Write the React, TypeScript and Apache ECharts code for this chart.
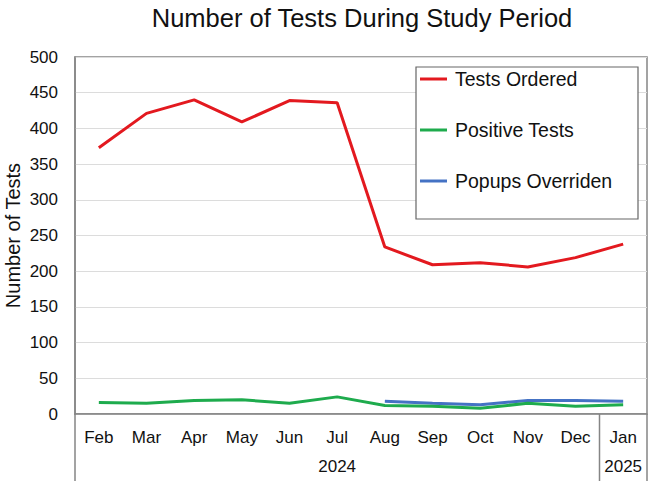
import React, { useEffect, useRef } from "react";
import * as echarts from "echarts";

const months = ["Feb", "Mar", "Apr", "May", "Jun", "Jul", "Aug", "Sep", "Oct", "Nov", "Dec", "Jan"];
const yearGroups = [
  { year: "2024", from: 0, to: 10 },
  { year: "2025", from: 11, to: 11 },
];
const testsOrdered = [373, 421, 440, 409, 439, 436, 234, 209, 212, 206, 219, 238];
const positiveTests = [16, 15, 19, 20, 15, 24, 12, 11, 8, 15, 11, 13];
const popupsOverriden = [null, null, null, null, null, null, 18, 15, 13, 19, 19, 18];

const FONT = "Liberation Sans, Arial, sans-serif";
const BORDER = "#858585";

export default function App() {
  const ref = useRef<HTMLDivElement>(null);
  useEffect(() => {
    if (!ref.current) return;
    const chart = echarts.init(ref.current, null, { renderer: "svg" });
    chart.setOption({
      animation: false,
      textStyle: { fontFamily: FONT },
      title: {
        text: "Number of Tests During Study Period",
        left: 357,
        textAlign: "center",
        top: 0,
        textStyle: { fontSize: 25.5, fontWeight: "normal", color: "#111", fontFamily: FONT },
      },
      grid: {
        left: 75,
        right: 3,
        top: 57,
        bottom: 67,
        show: true,
        borderColor: BORDER,
        borderWidth: 1.5,
        backgroundColor: "transparent",
        containLabel: false,
        outerBoundsMode: "none",
      },
      legend: {
        orient: "vertical",
        left: 420,
        top: 69,
        padding: 0,
        icon: "rect",
        itemWidth: 27,
        itemHeight: 3,
        itemGap: 31,
        z: 10,
        textStyle: { fontSize: 19.5, lineHeight: 20, color: "#111", fontFamily: FONT, padding: [0, 0, 0, 3] },
        data: ["Tests Ordered", "Positive Tests", "Popups Overriden"],
      },
      xAxis: {
        type: "category",
        data: months,
        boundaryGap: true,
        axisTick: { show: false },
        axisLine: { show: true, lineStyle: { color: BORDER, width: 1.5 } },
        axisLabel: { fontSize: 17, color: "#111", margin: 15, fontFamily: FONT },
        splitLine: { show: false },
      },
      yAxis: {
        type: "value",
        min: 0,
        max: 500,
        interval: 50,
        name: "Number of Tests",
        nameLocation: "middle",
        nameGap: 52,
        nameMoveOverlap: false,
        nameTextStyle: { fontSize: 20, color: "#111", fontFamily: FONT },
        axisLine: { show: true, lineStyle: { color: BORDER, width: 1.5 } },
        axisTick: { show: false },
        axisLabel: { fontSize: 17, color: "#111", margin: 17, fontFamily: FONT },
        splitLine: { show: true, lineStyle: { color: "#dcdcdc", width: 1 } },
      },
      series: [
        {
          name: "Tests Ordered",
          type: "line",
          data: testsOrdered,
          symbol: "none",
          color: "#e3191f",
          lineStyle: { width: 3, color: "#e3191f" },
          z: 3,
        },
        {
          name: "Positive Tests",
          type: "line",
          data: positiveTests,
          symbol: "none",
          color: "#1eab4d",
          lineStyle: { width: 3, color: "#1eab4d" },
          z: 3,
        },
        {
          name: "Popups Overriden",
          type: "line",
          data: popupsOverriden,
          symbol: "none",
          connectNulls: false,
          color: "#4472c4",
          lineStyle: { width: 3, color: "#4472c4" },
          z: 2,
        },
      ],
    });

    const px = (i: number) => chart.convertToPixel({ xAxisIndex: 0 }, months[i]) as number;
    const band = px(1) - px(0);
    const y0 = chart.convertToPixel({ yAxisIndex: 0 }, 0) as number;
    const bottom = 481;
    const elements: any[] = [];
    const seps = new Set<number>();
    yearGroups.forEach((g) => {
      const l = px(g.from) - band / 2;
      const r = px(g.to) + band / 2;
      seps.add(Math.round(l * 2) / 2);
      seps.add(Math.round(r * 2) / 2);
      elements.push({
        type: "text",
        x: (l + r) / 2,
        y: 466,
        style: {
          text: g.year,
          fontSize: 17,
          fill: "#111",
          fontFamily: FONT,
          align: "center",
          verticalAlign: "middle",
        },
      });
    });
    seps.forEach((x) => {
      elements.push({
        type: "line",
        shape: { x1: x, y1: y0, x2: x, y2: bottom },
        style: { stroke: BORDER, lineWidth: 1.5 },
      });
    });
    elements.push({
      type: "rect",
      shape: { x: 416, y: 67, width: 222, height: 152 },
      style: { fill: "#fff", stroke: "#666", lineWidth: 1.2 },
      z: 5,
    });
    chart.setOption({ graphic: elements });
    return () => chart.dispose();
  }, []);
  return <div ref={ref} style={{ width: 650, height: 481, position: "absolute", left: 0, top: 0, background: "#fff" }} />;
}
